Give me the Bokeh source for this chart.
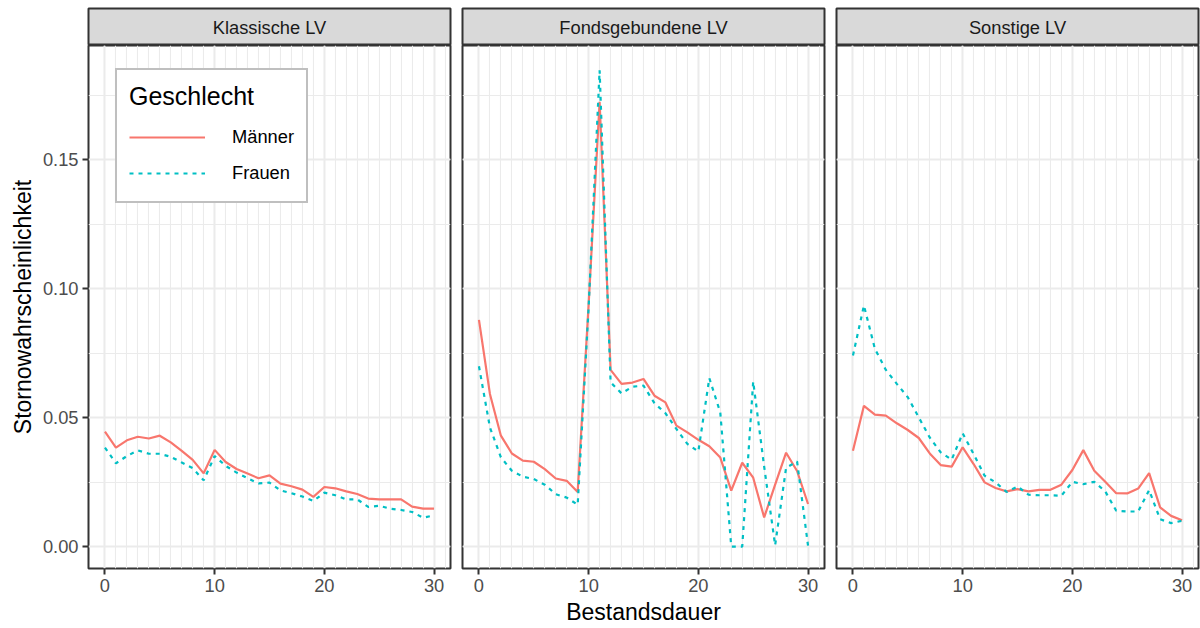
from bokeh.plotting import figure
from bokeh.layouts import row, column
from bokeh.models import (Range1d, FixedTicker, Grid, Legend, LegendItem,
                          ColumnDataSource, LinearAxis, NumeralTickFormatter)
from bokeh.core.properties import value
from bokeh.embed import file_html
from bokeh.resources import INLINE

# ---- data -------------------------------------------------------------
bestandsdauer = list(range(31))
sparten = ["Klassische LV", "Fondsgebundene LV", "Sonstige LV"]
geschlechter = ["Männer", "Frauen"]

klassisch_maenner = [0.0446, 0.0384, 0.0412, 0.0426, 0.0419, 0.0430, 0.0404, 0.0371,
                     0.0336, 0.0284, 0.0375, 0.0328, 0.0301, 0.0283, 0.0265, 0.0276,
                     0.0244, 0.0234, 0.0221, 0.0193, 0.0231, 0.0226, 0.0214, 0.0204,
                     0.0186, 0.0183, 0.0183, 0.0183, 0.0155, 0.0147, 0.0147]
klassisch_frauen = [0.0384, 0.0323, 0.0351, 0.0373, 0.0360, 0.0360, 0.0348, 0.0326,
                    0.0304, 0.0257, 0.0351, 0.0313, 0.0287, 0.0265, 0.0245, 0.0248,
                    0.0218, 0.0207, 0.0194, 0.0177, 0.0209, 0.0199, 0.0183, 0.0183,
                    0.0154, 0.0158, 0.0147, 0.0142, 0.0134, 0.0112, 0.0121]

fonds_maenner = [0.0879, 0.0592, 0.0430, 0.0361, 0.0333, 0.0329, 0.0300, 0.0264,
                 0.0255, 0.0212, 0.0940, 0.1725, 0.0685, 0.0631, 0.0636, 0.0650,
                 0.0585, 0.0559, 0.0469, 0.0443, 0.0414, 0.0389, 0.0345, 0.0217,
                 0.0325, 0.0267, 0.0113, 0.0240, 0.0364, 0.0293, 0.0165]
fonds_frauen = [0.0699, 0.0462, 0.0346, 0.0294, 0.0271, 0.0262, 0.0240, 0.0203,
                0.0190, 0.0162, 0.0930, 0.1847, 0.0637, 0.0594, 0.0620, 0.0624,
                0.0556, 0.0517, 0.0456, 0.0398, 0.0369, 0.0653, 0.0520, 0.0000,
                0.0000, 0.0640, 0.0310, 0.0005, 0.0306, 0.0330, 0.0003]

sonstige_maenner = [0.0372, 0.0546, 0.0512, 0.0508, 0.0478, 0.0452, 0.0421, 0.0361,
                    0.0316, 0.0310, 0.0385, 0.0320, 0.0249, 0.0227, 0.0214, 0.0223,
                    0.0214, 0.0220, 0.0220, 0.0240, 0.0297, 0.0374, 0.0294, 0.0251,
                    0.0207, 0.0206, 0.0225, 0.0285, 0.0152, 0.0119, 0.0102]
sonstige_frauen = [0.0741, 0.0935, 0.0767, 0.0685, 0.0631, 0.0579, 0.0501, 0.0423,
                   0.0365, 0.0337, 0.0439, 0.0359, 0.0275, 0.0249, 0.0212, 0.0233,
                   0.0201, 0.0199, 0.0199, 0.0197, 0.0251, 0.0242, 0.0251, 0.0214,
                   0.0139, 0.0136, 0.0136, 0.0219, 0.0106, 0.0091, 0.0100]

x_ticks = [0, 10, 20, 30]
x_minor = list(range(0, 32))
y_ticks = [0.00, 0.05, 0.10, 0.15]
y_minor = [0.025, 0.075, 0.125, 0.175]

reihen = {
    "Klassische LV": (klassisch_maenner, klassisch_frauen),
    "Fondsgebundene LV": (fonds_maenner, fonds_frauen),
    "Sonstige LV": (sonstige_maenner, sonstige_frauen),
}

# ---- styling ----------------------------------------------------------
FONT = "Liberation Sans"
FARBEN = {"Männer": "#F8766D", "Frauen": "#00BFC4"}
STRICH = {"Männer": "solid", "Frauen": "4 5"}
RAND = "#333333"
GITTER = "#EBEBEB"

FRAME_W, FRAME_H, STRIP_H = 362, 523, 37
links = [88, 6, 6]
rechts = [6, 6, 2]


def strip(titel, i):
    s = figure(width=links[i] + FRAME_W + rechts[i], height=8 + STRIP_H,
               frame_width=FRAME_W, frame_height=STRIP_H,
               x_range=Range1d(0, 1), y_range=Range1d(0, 1),
               x_axis_location=None, y_axis_location=None,
               toolbar_location=None, output_backend="svg",
               min_border_left=links[i], min_border_right=rechts[i],
               min_border_top=8, min_border_bottom=0)
    s.grid.visible = False
    s.background_fill_color = "#D9D9D9"
    s.border_fill_color = "white"
    s.outline_line_color = RAND
    s.outline_line_width = 2
    src = ColumnDataSource(dict(x=[0.5], y=[0.5], t=[titel]))
    s.text(x="x", y="y", text="t", source=src, text_align="center",
           text_baseline="middle", text_font=value(FONT), text_font_size="18.3px",
           text_color="#1A1A1A")
    return s


def panel(titel, i):
    p = figure(width=links[i] + FRAME_W + rechts[i], height=FRAME_H + 60,
               frame_width=FRAME_W, frame_height=FRAME_H,
               x_range=Range1d(-1.5, 31.5), y_range=Range1d(-0.0085, 0.1943),
               x_axis_location="below", y_axis_location=None,
               toolbar_location=None, output_backend="svg",
               min_border_left=links[i], min_border_right=rechts[i],
               min_border_top=0, min_border_bottom=60)
    p.background_fill_color = "white"
    p.border_fill_color = "white"
    p.outline_line_color = RAND
    p.outline_line_width = 2

    xt = FixedTicker(ticks=x_ticks, minor_ticks=x_minor)
    yt = FixedTicker(ticks=y_ticks, minor_ticks=y_minor)

    ax = p.xaxis[0]
    ax.ticker = xt
    p.xgrid.ticker = xt
    p.xgrid.grid_line_color = GITTER
    p.xgrid.grid_line_width = 2
    p.xgrid.minor_grid_line_color = GITTER
    p.xgrid.minor_grid_line_width = 1.1

    yg = Grid(dimension=1, ticker=yt, grid_line_color=GITTER, grid_line_width=2,
              minor_grid_line_color=GITTER, minor_grid_line_width=1.1)
    p.add_layout(yg, "center")

    axes = [ax]
    if i == 0:
        ay = LinearAxis(ticker=yt, formatter=NumeralTickFormatter(format="0.00"),
                        axis_label="Stornowahrscheinlichkeit")
        p.add_layout(ay, "left")
        axes.append(ay)
    if i == 1:
        ax.axis_label = "Bestandsdauer"

    for a in axes:
        a.axis_line_color = None
        a.major_tick_line_color = RAND
        a.major_tick_line_width = 2
        a.major_tick_out = 6
        a.major_tick_in = 0
        a.minor_tick_line_color = None
        a.major_label_text_font = FONT
        a.major_label_text_font_size = "18.3px"
        a.major_label_text_color = "#4D4D4D"
        a.major_label_standoff = 4
        a.axis_label_text_font = FONT
        a.axis_label_text_font_size = "23px"
        a.axis_label_text_font_style = "normal"
        a.axis_label_text_color = "black"
        a.axis_label_standoff = 4

    maenner, frauen = reihen[titel]
    linien = {}
    for name, werte in zip(geschlechter, (maenner, frauen)):
        src = ColumnDataSource(dict(x=bestandsdauer, y=werte))
        linien[name] = p.line("x", "y", source=src, line_color=FARBEN[name],
                              line_width=2.2, line_dash=STRICH[name])
    return p, linien


strips = []
panels = []
for i, titel in enumerate(sparten):
    strips.append(strip(titel, i))
    p, linien = panel(titel, i)
    if i == 0:
        legend = Legend(
            items=[LegendItem(label=g, renderers=[linien[g]]) for g in geschlechter],
            location=(27, 365), title="Geschlecht",
            title_text_font=FONT, title_text_font_size="25px",
            title_text_font_style="normal", title_text_color="black",
            title_standoff=10,
            label_text_font=FONT, label_text_font_size="18.3px",
            label_text_color="black",
            glyph_width=76, glyph_height=32, label_height=32,
            label_standoff=27, spacing=4, padding=12, margin=0,
            border_line_color="#7F7F7F", border_line_width=2,
            background_fill_color="white", background_fill_alpha=1.0)
        p.add_layout(legend)
    panels.append(p)

layout = column(row(*strips), row(*panels))

with open("out.html", "w") as f:
    f.write(file_html(layout, INLINE))
